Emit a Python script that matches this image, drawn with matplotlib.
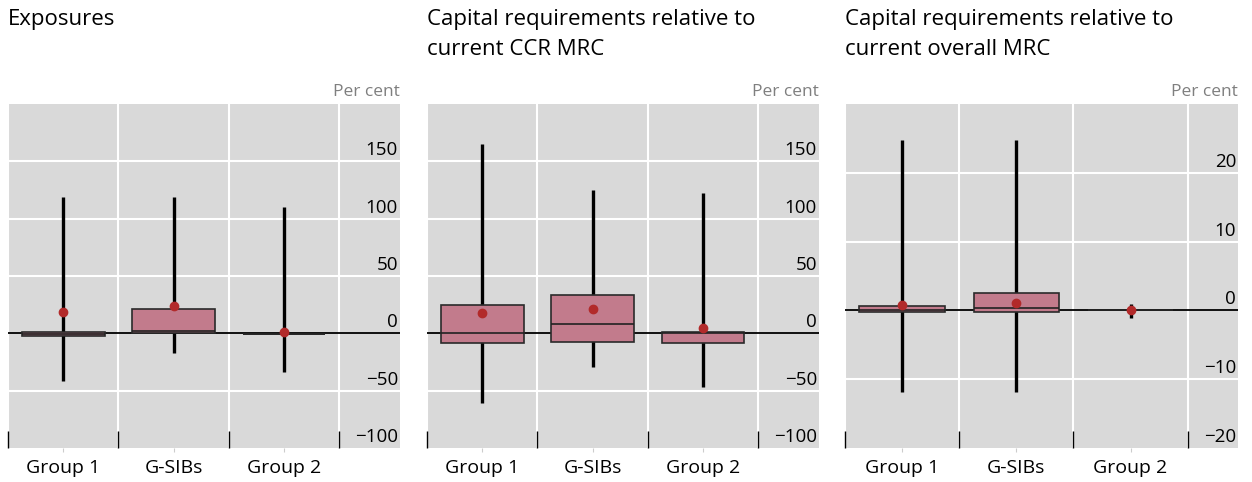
import matplotlib
matplotlib.use("Agg")
import matplotlib.pyplot as plt
import numpy as np

plt.rcParams['font.family'] = ['Open Sans', 'DejaVu Sans']

# data
categories = ["Group 1", "G-SIBs", "Group 2"]

titles = ["Exposures",
          "Capital requirements relative to\ncurrent CCR MRC",
          "Capital requirements relative to\ncurrent overall MRC"]

# per panel: whisker low, 25th pct, median, 75th pct, whisker high, mean
exp_low = [-42, -17, -34]
exp_q1 = [-2.5, 0.3, -0.5]
exp_med = [-1.0, 2.3, -0.5]
exp_q3 = [1.0, 21.5, -0.5]
exp_high = [119, 119, 110]
exp_mean = [18.5, 24, 1.2]

ccr_low = [-61, -29, -47]
ccr_q1 = [-8, -7.5, -8]
ccr_med = [0, 8.5, 0.5]
ccr_q3 = [25, 33, 1]
ccr_high = [165, 125, 122]
ccr_mean = [18, 21, 4.5]

mrc_low = [-11.8, -11.8, -1.1]
mrc_q1 = [-0.2, -0.2, 0]
mrc_med = [0.1, 0.3, 0]
mrc_q3 = [0.7, 2.5, 0]
mrc_high = [24.7, 24.7, 1.0]
mrc_mean = [0.8, 1.1, 0]

yticks_big = [-100, -50, 0, 50, 100, 150]
yticks_small = [-20, -10, 0, 10, 20]

panels = [
    (exp_low, exp_q1, exp_med, exp_q3, exp_high, exp_mean, (-100, 200), yticks_big, 3.05),
    (ccr_low, ccr_q1, ccr_med, ccr_q3, ccr_high, ccr_mean, (-100, 200), yticks_big, 3.05),
    (mrc_low, mrc_q1, mrc_med, mrc_q3, mrc_high, mrc_mean, (-20, 30), yticks_small, 2.94),
]

W, H = 1252, 482
fig = plt.figure(figsize=(W / 100, H / 100), dpi=100)

lefts = [8, 427, 845]
widths = [392, 392, 393]
ax_top, ax_bot = 104, 448

box_color = "#c27b8c"
dot_color = "#b22a2a"
bg = "#d9d9d9"

for i, (lo, q1, med, q3, hi, mean, ylim, yt, xright) in enumerate(panels):
    ax = fig.add_axes([lefts[i] / W, (H - ax_bot) / H, widths[i] / W, (ax_bot - ax_top) / H])
    ax.set_facecolor(bg)
    for s in ax.spines.values():
        s.set_visible(False)
    ax.set_xlim(-0.5, xright)
    ax.set_ylim(*ylim)

    x = np.arange(len(categories))

    # grid lines
    for v in yt:
        if v not in (0, ylim[0]):
            ax.axhline(v, color="white", lw=1.5, zorder=0)
    for v in [-0.5, 0.5, 1.5, 2.5]:
        ax.axvline(v, color="white", lw=1.5, zorder=0)
    ax.axhline(0, color="black", lw=1.3, zorder=1)

    # whiskers, boxes, medians, means
    ax.vlines(x, lo, hi, color="black", lw=2.4, zorder=2)
    heights = np.array(q3) - np.array(q1)
    ax.bar(x, heights, bottom=q1, width=0.75, color=box_color,
           edgecolor="#2a2a2a", linewidth=1.2, zorder=3)
    ax.hlines(med, x - 0.375, x + 0.375, color="#222222", lw=1.2, zorder=4)
    ax.plot(x, mean, "o", color=dot_color, markersize=6, zorder=5)

    # y tick labels inside the plot, above the grid lines
    ax.set_yticks([])
    for v in yt:
        ax.annotate(f"{v}".replace("-", "\u2212"), xy=(1, v),
                    xycoords=("axes fraction", "data"),
                    xytext=(-2, 11), textcoords="offset pixels",
                    ha="right", va="center", fontsize=13.5, color="black")

    # x ticks: black bars at group borders, labels at centers
    ax.set_xticks([-0.5, 0.5, 1.5, 2.5])
    ax.set_xticklabels([])
    ax.tick_params(axis="x", which="major", direction="in", length=12,
                   width=1, color="black")
    ax.set_xticks(x, minor=True)
    ax.set_xticklabels(categories, minor=True, fontsize=14)
    ax.tick_params(axis="x", which="minor", direction="out", length=3,
                   width=0.8, color="#cccccc", pad=5)

    ax.annotate("Per cent", xy=(1, 1), xycoords="axes fraction",
                xytext=(0, 4), textcoords="offset pixels",
                ha="right", va="bottom", fontsize=12.5, color="#7f7f7f")
    fig.text(lefts[i] / W, 1 - 9 / H, titles[i], ha="left", va="top",
             fontsize=16, linespacing=1.55)

fig.savefig("out.png", dpi=100)
